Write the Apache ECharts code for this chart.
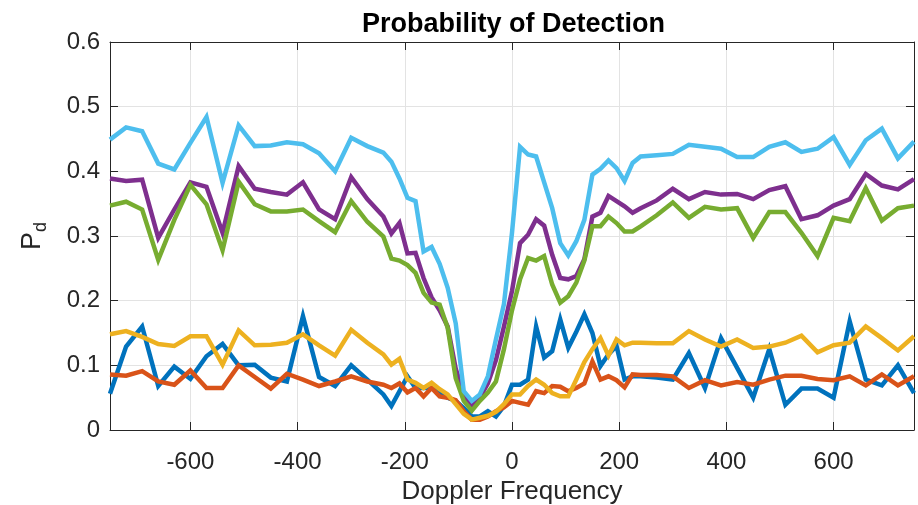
<!DOCTYPE html>
<html>
<head>
<meta charset="utf-8">
<script src="https://cdn.jsdelivr.net/npm/echarts@6/dist/echarts.min.js"></script>
<style>
  html, body { margin: 0; padding: 0; background: #fff; }
  #chart { width: 918px; height: 505px; }
</style>
</head>
<body>
<div id="chart"></div>
<script>
// Doppler frequency sweep: coarse steps at the edges, fine steps near zero
const dopplerFreq = [
  -750, -720, -690, -660, -630, -600, -570, -540, -510, -480, -450, -420, -390, -360, -330, -300, -270,
  -240, -225, -210, -195, -180, -165, -150, -135, -120, -105, -90, -75, -60, -45, -30, -15,
  0, 15, 30, 45, 60, 75, 90, 105, 120, 135, 150, 165, 180, 195, 210, 225, 240,
  270, 300, 330, 360, 390, 420, 450, 480, 510, 540, 570, 600, 630, 660, 690, 720, 750
];

const pdBlue = [
  0.056, 0.129, 0.160, 0.068, 0.098, 0.079, 0.114, 0.133, 0.100, 0.101, 0.081, 0.075, 0.176, 0.082, 0.068, 0.100, 0.078,
  0.055, 0.037, 0.060, 0.083, 0.065, 0.065, 0.065, 0.058, 0.050, 0.045, 0.034, 0.021, 0.021, 0.029, 0.021, 0.037,
  0.070, 0.070, 0.078, 0.160, 0.112, 0.122, 0.171, 0.127, 0.152, 0.179, 0.150, 0.099, 0.117, 0.130, 0.078, 0.083, 0.083,
  0.081, 0.078, 0.119, 0.065, 0.142, 0.096, 0.050, 0.125, 0.039, 0.064, 0.064, 0.050, 0.168, 0.078, 0.069, 0.100, 0.057
];

const pdOrange = [
  0.086, 0.084, 0.091, 0.075, 0.070, 0.092, 0.065, 0.065, 0.100, 0.082, 0.064, 0.087, 0.078, 0.068, 0.075, 0.083, 0.075,
  0.070, 0.065, 0.072, 0.058, 0.065, 0.052, 0.065, 0.052, 0.050, 0.046, 0.029, 0.016, 0.016, 0.021, 0.029, 0.035,
  0.045, 0.042, 0.039, 0.060, 0.057, 0.068, 0.067, 0.060, 0.065, 0.072, 0.106, 0.078, 0.083, 0.077, 0.066, 0.086, 0.085,
  0.085, 0.083, 0.065, 0.077, 0.069, 0.074, 0.070, 0.078, 0.084, 0.084, 0.079, 0.077, 0.083, 0.069, 0.086, 0.069, 0.083
];

const pdYellow = [
  0.148, 0.153, 0.144, 0.133, 0.130, 0.145, 0.145, 0.101, 0.154, 0.131, 0.132, 0.135, 0.148, 0.131, 0.115, 0.155, 0.135,
  0.117, 0.101, 0.110, 0.078, 0.073, 0.065, 0.073, 0.063, 0.055, 0.040, 0.025, 0.016, 0.019, 0.022, 0.028, 0.040,
  0.055, 0.055, 0.068, 0.078, 0.070, 0.057, 0.052, 0.052, 0.078, 0.105, 0.125, 0.142, 0.115, 0.140, 0.131, 0.135, 0.135,
  0.134, 0.134, 0.153, 0.140, 0.129, 0.140, 0.127, 0.129, 0.135, 0.146, 0.120, 0.131, 0.135, 0.160, 0.142, 0.123, 0.145
];

const pdPurple = [
  0.389, 0.385, 0.387, 0.297, 0.341, 0.383, 0.376, 0.305, 0.408, 0.373, 0.368, 0.364, 0.383, 0.341, 0.326, 0.391, 0.357,
  0.330, 0.304, 0.320, 0.273, 0.274, 0.235, 0.205, 0.185, 0.160, 0.095, 0.055, 0.038, 0.050, 0.072, 0.108, 0.160,
  0.215, 0.289, 0.302, 0.326, 0.316, 0.271, 0.235, 0.233, 0.238, 0.264, 0.330, 0.336, 0.362, 0.354, 0.346, 0.336, 0.343,
  0.355, 0.373, 0.357, 0.368, 0.364, 0.365, 0.357, 0.371, 0.377, 0.326, 0.332, 0.347, 0.357, 0.396, 0.378, 0.372, 0.388
];

const pdGreen = [
  0.347, 0.353, 0.341, 0.263, 0.325, 0.379, 0.349, 0.278, 0.384, 0.349, 0.338, 0.338, 0.341, 0.323, 0.306, 0.354, 0.322,
  0.299, 0.265, 0.262, 0.255, 0.243, 0.212, 0.197, 0.194, 0.158, 0.080, 0.045, 0.030, 0.045, 0.058, 0.075, 0.125,
  0.185, 0.233, 0.266, 0.262, 0.269, 0.225, 0.197, 0.207, 0.228, 0.262, 0.315, 0.315, 0.330, 0.320, 0.307, 0.307, 0.315,
  0.332, 0.352, 0.328, 0.345, 0.341, 0.343, 0.297, 0.337, 0.337, 0.305, 0.269, 0.328, 0.323, 0.374, 0.324, 0.343, 0.347
];

const pdLightBlue = [
  0.449, 0.468, 0.462, 0.412, 0.403, 0.444, 0.484, 0.382, 0.471, 0.439, 0.440, 0.445, 0.442, 0.428, 0.400, 0.452, 0.439,
  0.429, 0.415, 0.389, 0.359, 0.354, 0.276, 0.283, 0.257, 0.220, 0.165, 0.060, 0.045, 0.055, 0.083, 0.140, 0.195,
  0.305, 0.438, 0.426, 0.423, 0.383, 0.343, 0.289, 0.270, 0.292, 0.325, 0.395, 0.404, 0.417, 0.405, 0.385, 0.413, 0.423,
  0.425, 0.427, 0.441, 0.438, 0.435, 0.422, 0.422, 0.438, 0.445, 0.430, 0.435, 0.453, 0.410, 0.448, 0.466, 0.420, 0.446
];

const seriesList = [
  { values: pdBlue, color: '#0072BD' },
  { values: pdOrange, color: '#D95319' },
  { values: pdYellow, color: '#EDB120' },
  { values: pdPurple, color: '#7E2F8E' },
  { values: pdGreen, color: '#77AC30' },
  { values: pdLightBlue, color: '#4DBEEE' }
];

const axisColor = '#262626';
const gridColor = '#e3e3e3';
const fontFamily = '"Liberation Sans", Arial, Helvetica, sans-serif';

const chart = echarts.init(document.getElementById('chart'), null, { renderer: 'canvas' });

const xCommon = {
  type: 'value',
  min: -750,
  max: 750,
  splitNumber: 7,
  axisLine: { show: true, onZero: false, lineStyle: { color: axisColor, width: 1 } },
  axisTick: { show: true, inside: true, length: 8, lineStyle: { color: axisColor } }
};
const yCommon = {
  type: 'value',
  min: 0,
  max: 0.6,
  interval: 0.1,
  axisLine: { show: true, onZero: false, lineStyle: { color: axisColor, width: 1 } },
  axisTick: { show: true, inside: true, length: 8, lineStyle: { color: axisColor } }
};

chart.setOption({
  backgroundColor: '#ffffff',
  animation: false,
  title: {
    text: 'Probability of Detection',
    left: 357,
    top: 6,
    textStyle: { fontFamily, fontSize: 27, fontWeight: 'bold', color: '#000000' }
  },
  grid: { left: 110, right: 4, top: 42, bottom: 75, containLabel: false, outerBoundsMode: 'none' },
  xAxis: [
    Object.assign({}, xCommon, {
      position: 'bottom',
      name: 'Doppler Frequency',
      nameLocation: 'middle',
      nameGap: 47,
      nameTextStyle: { fontFamily, fontSize: 26, color: axisColor },
      axisLabel: {
        show: true, margin: 20, showMinLabel: false, showMaxLabel: false,
        fontFamily, fontSize: 24, color: axisColor
      },
      splitLine: { show: true, lineStyle: { color: gridColor, width: 1 } }
    }),
    Object.assign({}, xCommon, {
      position: 'top',
      axisLabel: { show: false },
      splitLine: { show: false }
    })
  ],
  yAxis: [
    Object.assign({}, yCommon, {
      position: 'left',
      name: '{p|P}{d|d}',
      nameLocation: 'middle',
      nameRotate: 90,
      nameGap: 60,
      nameTextStyle: {
        fontFamily, color: axisColor,
        rich: {
          p: { fontFamily, fontSize: 27, lineHeight: 34, color: axisColor, verticalAlign: 'middle' },
          d: { fontFamily, fontSize: 18, lineHeight: 18, color: axisColor, verticalAlign: 'bottom' }
        }
      },
      axisLabel: { show: true, margin: 10, fontFamily, fontSize: 24, color: axisColor },
      splitLine: { show: true, lineStyle: { color: gridColor, width: 1 } }
    }),
    Object.assign({}, yCommon, {
      position: 'right',
      axisLabel: { show: false },
      splitLine: { show: false }
    })
  ],
  series: seriesList.map(s => ({
    type: 'line',
    xAxisIndex: 0,
    yAxisIndex: 0,
    data: dopplerFreq.map((f, i) => [f, s.values[i]]),
    showSymbol: false,
    symbol: 'none',
    clip: true,
    lineStyle: { color: s.color, width: 4.5, join: 'miter' },
    itemStyle: { color: s.color }
  }))
});
</script>
</body>
</html>
